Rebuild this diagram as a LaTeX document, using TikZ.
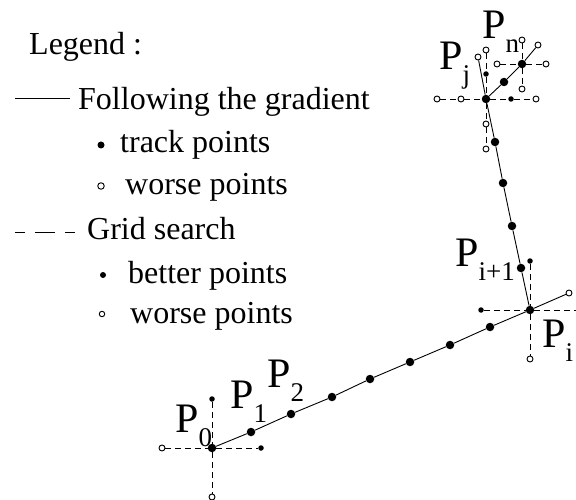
\documentclass[tikz,border=0pt]{standalone}
\usepackage{fontspec}
\setmainfont{Liberation Serif}
\newcommand{\Psub}[1]{P\raisebox{-14pt}{\fontsize{27}{27}\selectfont #1}}
\tikzset{
  track/.style={circle,fill,inner sep=0pt,minimum size=8.5pt},
  better/.style={circle,fill,inner sep=0pt,minimum size=5.5pt},
  worse/.style={circle,draw,fill=white,inner sep=0pt,minimum size=6pt,line width=.9pt},
  gridline/.style={dash pattern=on 6pt off 4pt,line width=.8pt},
  trackline/.style={line width=.9pt},
  legtext/.style={anchor=base west,inner sep=0pt,font=\fontsize{32}{32}\selectfont},
  plabel/.style={anchor=base west,inner sep=0pt,font=\fontsize{42}{42}\selectfont},
}
\begin{document}
\begin{tikzpicture}[x=1pt,y=-1pt]
\useasboundingbox (0,0) rectangle (576,500);
% legend
\node[legtext](leg) at (29,55){Legend :};
\node[legtext](fol) at (78,110){Following the gradient};
\coordinate (solA) at (15,98);
\coordinate (solB) at (70,98);
\node[legtext](trk) at (120,153){track points};
\node[track,minimum size=7pt](trkdot) at (101,145){};
\node[legtext](wr1) at (125,195){worse points};
\node[worse,minimum size=6.5pt](wr1dot) at (101,186){};
\node[legtext](grd) at (87,240){Grid search};
\coordinate (dshA) at (15,232);
\coordinate (dshB) at (75,232);
\node[legtext](bet) at (128,283){better points};
\node[better,minimum size=6pt](betdot) at (103,275){};
\node[legtext](wr2) at (130,323){worse points};
\node[worse,minimum size=5.5pt](wr2dot) at (102,314){};

\draw[trackline](solA)--(solB);
\draw[line width=.8pt,dash pattern=on 10pt off 10pt on 20pt off 10pt on 10pt off 10pt](dshA)--(dshB);

% track P0 -> Pi
\node[track](P0) at (212,448){};
\node[track](a1) at (251,432){};
\node[track](a2) at (291,414){};
\node[track](a3) at (332,397){};
\node[track](a4) at (370,379){};
\node[track](a5) at (410,362){};
\node[track](a6) at (450,345){};
\node[track](a7) at (490,327){};
\node[track](Pi) at (530,310){};
\node[worse](a8) at (569,293){};
% track Pi -> Pj
\node[track](b1) at (521,268){};
\node[track](b2) at (512,226){};
\node[track](b3) at (503,183){};
\node[track](b4) at (495,142){};
\node[track](Pj) at (486,99){};
\node[worse](b5) at (478,57){};
% track Pj -> Pn
\node[track](c1) at (504,82){};
\node[track](Pn) at (522,64){};
\node[worse](c2) at (538,45){};

% grid round P0
\node[worse](g0l) at (162,448){};
\node[better](g0r) at (261,448){};
\node[better](g0u) at (212,399){};
\node[worse](g0d) at (212,497){};
% grid round Pi
\node[better](gil) at (481,310){};
\coordinate (gir) at (576,310);
\node[better](giu) at (530,261){};
\node[worse](gid) at (530,359){};
% grid round Pj
\node[worse](gjl2) at (437,99){};
\node[worse](gjl1) at (461,99){};
\node[better](gjr1) at (511,99){};
\node[worse](gjr2) at (536,99){};
\node[better](gju1) at (486,74){};
\node[worse](gju2) at (486,50){};
\node[worse](gjd1) at (486,124){};
\node[worse](gjd2) at (486,149){};
% grid round Pn
\node[worse](gnl) at (497,64){};
\node[worse](gnr) at (546,64){};
\node[worse](gnu) at (522,40){};
\node[worse](gnd) at (522,89){};

\draw[gridline](g0l)--(P0)--(g0r);
\draw[gridline](g0u)--(P0)--(g0d);
\draw[gridline](gil)--(Pi)--(gir);
\draw[gridline](giu)--(Pi)--(gid);
\draw[gridline](gjl2)--(gjl1)--(Pj)--(gjr1)--(gjr2);
\draw[gridline](gju2)--(gju1)--(Pj)--(gjd1)--(gjd2);
\draw[gridline](gnl)--(Pn)--(gnr);
\draw[gridline](gnu)--(Pn)--(gnd);

\draw[trackline](P0)--(a1)--(a2)--(a3)--(a4)--(a5)--(a6)--(a7)--(Pi)--(a8);
\draw[trackline](Pi)--(b1)--(b2)--(b3)--(b4)--(Pj)--(b5);
\draw[trackline](Pj)--(c1)--(Pn)--(c2);

% labels
\node[plabel](lP0) at (175,432){\Psub{0}};
\node[plabel](lP1) at (230,408){\Psub{1}};
\node[plabel](lP2) at (267,387){\Psub{2}};
\node[plabel](lPi1) at (455,266){\Psub{i+1}};
\node[plabel](lPi) at (542,347){\Psub{i}};
\node[plabel](lPj) at (439,70){\Psub{j}};
\node[plabel](lPn) at (482,39){\Psub{n}};
\end{tikzpicture}
\end{document}
